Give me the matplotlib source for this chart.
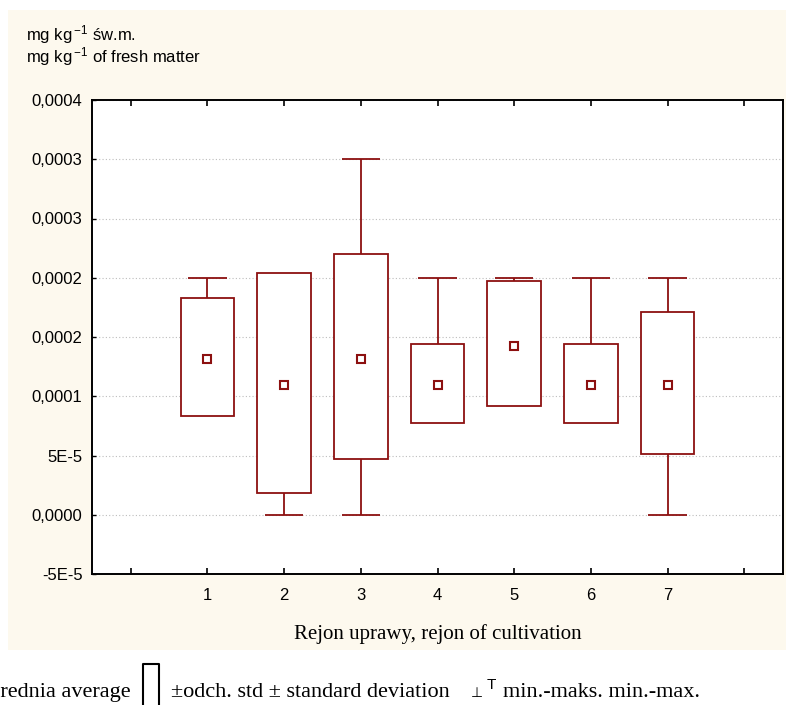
import matplotlib
matplotlib.use("Agg")
import matplotlib.pyplot as plt
from matplotlib.patches import Rectangle
from matplotlib.lines import Line2D

plt.rcParams['font.family'] = ['Liberation Sans', 'DejaVu Sans']
plt.rcParams['mathtext.fontset'] = 'custom'
plt.rcParams['mathtext.rm'] = 'Liberation Sans'
plt.rcParams['mathtext.it'] = 'Liberation Sans:italic'

# data
regions = [1, 2, 3, 4, 5, 6, 7]
means = [1.314e-4, 1.095e-4, 1.314e-4, 1.095e-4, 1.427e-4, 1.095e-4, 1.095e-4]
sd_low = [0.836e-4, 0.186e-4, 0.468e-4, 0.777e-4, 0.918e-4, 0.777e-4, 0.510e-4]
sd_high = [1.832e-4, 2.038e-4, 2.200e-4, 1.443e-4, 1.970e-4, 1.443e-4, 1.711e-4]
mins = [1.0e-4, 0.0, 0.0, 1.0e-4, 1.0e-4, 1.0e-4, 0.0]
maxs = [2.0e-4, 2.0e-4, 3.0e-4, 2.0e-4, 2.0e-4, 2.0e-4, 2.0e-4]

ytick_vals = [-5e-5, 0, 5e-5, 1e-4, 1.5e-4, 2e-4, 2.5e-4, 3e-4, 3.5e-4]
ytick_labels = ['-5E-5', '0,0000', '5E-5', '0,0001', '0,0002', '0,0002',
                '0,0003', '0,0003', '0,0004']
xtick_vals = [0, 1, 2, 3, 4, 5, 6, 7, 8]
xtick_labels = ['', '1', '2', '3', '4', '5', '6', '7', '']

red = '#8c1010'
W, H = 786, 705


def px(x, y):
    # pixel position -> figure fraction
    return x / W, 1 - y / H


fig = plt.figure(figsize=(W / 100, H / 100), dpi=100)
fig.patch.set_facecolor('white')

# cream panel behind the plot
x0, y0 = px(8, 650)
fig.add_artist(Rectangle((x0, y0), 1 - x0, (650 - 10) / H, transform=fig.transFigure,
                         facecolor='#fdf9ee', edgecolor='none', zorder=-10))

ax = fig.add_axes([92.3 / W, 1 - 574 / H, (782.7 - 92.3) / W, (574 - 100) / H])
ax.set_facecolor('white')

for x, m, lo, hi, mn, mx in zip(regions, means, sd_low, sd_high, mins, maxs):
    ax.vlines(x, mn, mx, color=red, lw=1.3, zorder=2)
    ax.hlines([mn, mx], x - 0.25, x + 0.25, color=red, lw=1.3, zorder=2)
    ax.add_patch(Rectangle((x - 0.35, lo), 0.7, hi - lo, facecolor='white',
                           edgecolor=red, lw=1.3, zorder=3))
    ax.plot(x, m, 's', ms=6, mfc='white', mec=red, mew=1.5, zorder=4)

ax.set_xlim(-0.5, 8.5)
ax.set_ylim(-5e-5, 3.5e-4)
ax.set_xticks(xtick_vals)
ax.set_xticklabels(xtick_labels, fontsize=12)
ax.set_yticks(ytick_vals)
ax.set_yticklabels(ytick_labels, fontsize=12)
ax.tick_params(axis='x', direction='in', length=4, width=1.2, top=True, pad=10)
ax.tick_params(axis='y', direction='in', length=3, width=1.0, pad=7)
ax.yaxis.grid(True, linestyle=(0, (1, 2)), color='#bdbdbd', lw=0.8)
ax.set_axisbelow(True)
for s in ax.spines.values():
    s.set_linewidth(1.4)
    s.set_color('black')

ax.set_xlabel('Rejon uprawy, rejon of cultivation', family='Liberation Serif',
              fontsize=15, labelpad=15)

# unit text top left
fig.text(*px(26, 35), r'mg kg$\,^{-1}$ św.m.', fontsize=12, va='center', ha='left')
fig.text(*px(26, 57), r'mg kg$\,^{-1}$ of fresh matter', fontsize=12, va='center', ha='left')

# legend row below the panel
serif = ['Liberation Serif', 'DejaVu Serif']
fig.text(*px(131, 697), 'Średnia average', family=serif, fontsize=16,
         ha='right', va='baseline')
xs = [143 / W, 143 / W, 159 / W, 159 / W]
ys = [1 - 706 / H, 1 - 664 / H, 1 - 664 / H, 1 - 706 / H]
fig.add_artist(Line2D(xs, ys, transform=fig.transFigure, color='black', lw=1.5))
fig.text(*px(171, 697), '±odch. std ± standard deviation', family=serif,
         fontsize=16, ha='left', va='baseline')
fig.text(*px(471, 697), '⊥', family=['DejaVu Sans'], fontsize=10,
         ha='left', va='baseline')
fig.text(*px(487, 689), 'T', family=['Liberation Sans'], fontsize=11,
         ha='left', va='baseline')
fig.text(*px(503, 697), 'min.-maks. min.-max.', family=serif, fontsize=16,
         ha='left', va='baseline')

fig.savefig('out.png', dpi=100)
